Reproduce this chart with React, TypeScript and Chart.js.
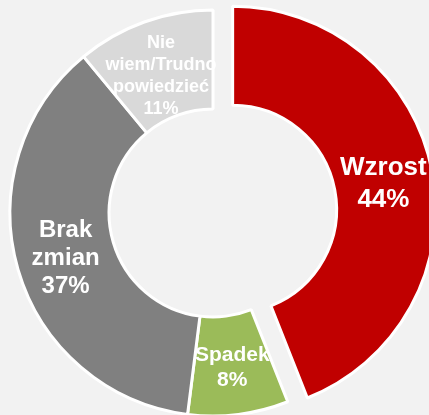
import React, { useEffect, useRef } from "react";
import { Chart, registerables } from "chart.js";

Chart.register(...registerables);

const categories = ["Wzrost", "Spadek", "Brak zmian", "Nie wiem/Trudno powiedzieć"];
const values = [44, 8, 37, 11];
const labelLines = [["Wzrost"], ["Spadek"], ["Brak", "zmian"], ["Nie", "wiem/Trudno", "powiedzieć"]];
const colors = ["#c00000", "#9bbb59", "#808080", "#d9d9d9"];
const explode = [20, 0, 0, 0];
const labelFontSizes = [26, 21, 24, 18];
const labelLineHeights = [32, 25, 28, 22];
const labelShiftY = [3, 2, 3, 7];

const explodePlugin = {
  id: "explodeSlices",
  afterDatasetsUpdate(chart: any) {
    const meta = chart.getDatasetMeta(0);
    meta.data.forEach((arc: any, i: number) => {
      const d = explode[i];
      if (!d) return;
      const mid = (arc.startAngle + arc.endAngle) / 2;
      arc.x += Math.cos(mid) * d;
      arc.y += Math.sin(mid) * d;
    });
  },
};

const labelPlugin = {
  id: "sliceLabels",
  afterDatasetsDraw(chart: any) {
    const ctx = chart.ctx;
    const meta = chart.getDatasetMeta(0);
    ctx.save();
    ctx.fillStyle = "#ffffff";
    ctx.textAlign = "center";
    ctx.textBaseline = "middle";
    meta.data.forEach((arc: any, i: number) => {
      const mid = (arc.startAngle + arc.endAngle) / 2;
      const r = (arc.innerRadius + arc.outerRadius) / 2;
      const cx = arc.x + Math.cos(mid) * r;
      const cy = arc.y + Math.sin(mid) * r + labelShiftY[i];
      const lines = [...labelLines[i], values[i] + "%"];
      const lh = labelLineHeights[i];
      ctx.font = `bold ${labelFontSizes[i]}px "Liberation Sans", Arial, sans-serif`;
      lines.forEach((t, k) => {
        ctx.fillText(t, cx, cy + (k - (lines.length - 1) / 2) * lh);
      });
    });
    ctx.restore();
  },
};

export default function App() {
  const ref = useRef<HTMLCanvasElement | null>(null);
  useEffect(() => {
    if (!ref.current) return;
    const chart = new Chart(ref.current, {
      type: "doughnut",
      data: {
        labels: categories,
        datasets: [
          {
            data: values,
            backgroundColor: colors,
            borderColor: "#ffffff",
            borderWidth: 3,
          },
        ],
      },
      options: {
        responsive: false,
        animation: false,
        devicePixelRatio: 1,
        radius: 203,
        cutout: "51.2%",
        layout: { padding: 0 },
        plugins: {
          legend: { display: false },
          tooltip: { enabled: false },
        },
      } as any,
      plugins: [explodePlugin, labelPlugin],
    });
    return () => chart.destroy();
  }, []);
  return (
    <div
      style={{
        position: "fixed",
        left: 0,
        top: 0,
        width: 429,
        height: 415,
        overflow: "hidden",
        background: "#f2f2f2",
      }}
    >
      <canvas
        ref={ref}
        width={500}
        height={500}
        style={{ position: "absolute", left: -37, top: -37, width: 500, height: 500 }}
      />
    </div>
  );
}
